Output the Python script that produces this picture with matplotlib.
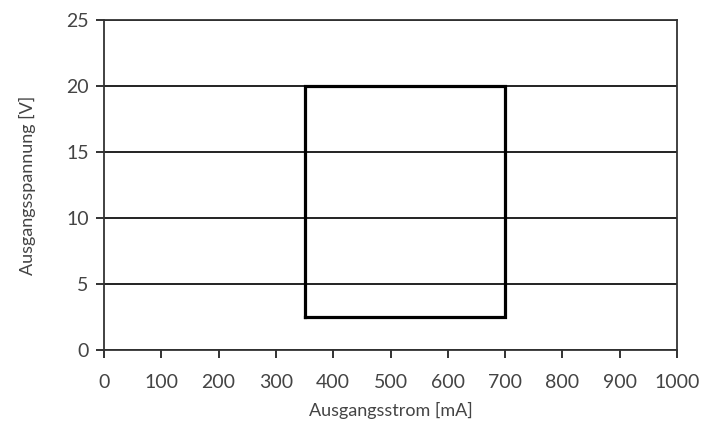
import matplotlib
matplotlib.use("Agg")
import matplotlib.pyplot as plt

# Data
rect_current = [350, 350, 700, 700, 350]   # mA
rect_voltage = [2.5, 20, 20, 2.5, 2.5]     # V
x_ticks = [0, 100, 200, 300, 400, 500, 600, 700, 800, 900, 1000]
y_ticks = [0, 5, 10, 15, 20, 25]
x_label = "Ausgangsstrom [mA]"
y_label = "Ausgangsspannung [V]"

plt.rcParams['font.family'] = ['Lato', 'DejaVu Sans']

fig = plt.figure(figsize=(7.16, 4.23), dpi=100)
ax = fig.add_axes([104/716, 1-350/423, (677-104)/716, (350-20)/423])

ax.set_xlim(0, 1000)
ax.set_ylim(0, 25)
ax.set_xticks(x_ticks)
ax.set_yticks(y_ticks)
ax.yaxis.grid(True, color='#111111', linewidth=1.3)
ax.set_axisbelow(True)

ax.plot(rect_current, rect_voltage, color='black', linewidth=2.3, solid_joinstyle='miter')

for s in ['left', 'right', 'top', 'bottom']:
    ax.spines[s].set_color('#333333')
    ax.spines[s].set_linewidth(1.3)

ax.tick_params(axis='both', direction='out', length=6, width=1.3, color='#222222',
               labelcolor='#444444', labelsize=14)
ax.tick_params(axis='x', pad=11)
ax.tick_params(axis='y', pad=5)

ax.set_xlabel(x_label, fontsize=13, color='#444444', labelpad=8)
ax.set_ylabel(y_label, fontsize=13, color='#444444', labelpad=22)

fig.savefig("out.png", dpi=100)
